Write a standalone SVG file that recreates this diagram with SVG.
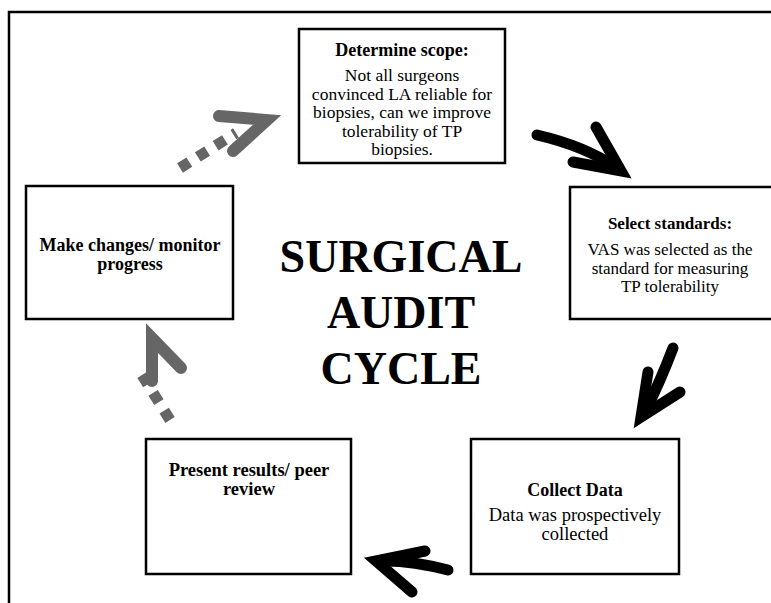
<svg xmlns="http://www.w3.org/2000/svg" width="771" height="603" viewBox="0 0 771 603">
<style>
.box{fill:#fff;stroke:#000;stroke-width:2.5}
.b{font-family:"Liberation Serif","Times New Roman",serif;font-weight:bold;font-size:18px;text-anchor:middle;fill:#000}
.t{font-family:"Liberation Serif","Times New Roman",serif;font-size:17.5px;text-anchor:middle;fill:#000}
.title{font-family:"Liberation Serif","Times New Roman",serif;font-weight:bold;font-size:46px;text-anchor:middle;fill:#000}
.blk{fill:none;stroke:#000;stroke-width:11;stroke-linecap:round;stroke-linejoin:miter}
.gry{fill:none;stroke:#666;stroke-width:12;stroke-linecap:round;stroke-linejoin:miter}
.dots{fill:none;stroke:#666;stroke-width:11;stroke-dasharray:11 10}
</style>
<rect x="9" y="12" width="780" height="620" fill="none" stroke="#000" stroke-width="2.5"/>
<g id="connectors">
<path class="blk" d="M537,135 Q585,146 617,168"/>
<path class="blk" d="M596,127 L621,171 L573,162"/>
<path class="blk" d="M673,348 Q660,382 646,410"/>
<path class="blk" d="M648,372 L641,417 L680,392"/>
<path class="blk" d="M448,570 Q410,560 380,561"/>
<path class="blk" d="M425,551 L376,561 L412,592"/>
<path class="dots" d="M180,168 L236,133"/>
<path class="gry" d="M219,116 L267,120 L233,151"/>
<path class="dots" d="M170,420 L142,375"/>
<path class="gry" d="M152,381 L152,338 L181,368"/>
</g>
<g id="title">
<text class="title" x="401" y="272">SURGICAL</text>
<text class="title" x="401" y="328">AUDIT</text>
<text class="title" x="401" y="384">CYCLE</text>
</g>
<g id="determine-scope">
<rect class="box" x="299" y="29" width="206" height="134"/>
<text class="b" x="402" y="56">Determine scope:</text>
<text class="t" x="402" y="81">Not all surgeons</text>
<text class="t" x="402" y="99.5">convinced LA reliable for</text>
<text class="t" x="402" y="118">biopsies, can we improve</text>
<text class="t" x="402" y="136.5">tolerability of TP</text>
<text class="t" x="402" y="155">biopsies.</text>
</g>
<g id="select-standards">
<rect class="box" x="570" y="187" width="210" height="132"/>
<text class="b" x="670" y="229" style="font-size:17px">Select standards:</text>
<text class="t" x="670" y="255" style="font-size:17px">VAS was selected as the</text>
<text class="t" x="670" y="273.5" style="font-size:17px">standard for measuring</text>
<text class="t" x="670" y="292" style="font-size:17px">TP tolerability</text>
</g>
<g id="collect-data">
<rect class="box" x="471" y="439" width="208" height="135"/>
<text class="b" x="575" y="496">Collect Data</text>
<text class="t" x="575" y="521" style="font-size:18.5px">Data was prospectively</text>
<text class="t" x="575" y="539.5" style="font-size:18.5px">collected</text>
</g>
<g id="present-results">
<rect class="box" x="146" y="439" width="205" height="135"/>
<text class="b" x="249" y="475.5" style="font-size:18.5px">Present results/ peer</text>
<text class="b" x="249" y="495" style="font-size:18.5px">review</text>
</g>
<g id="make-changes">
<rect class="box" x="26" y="186" width="207" height="133"/>
<text class="b" x="130" y="251">Make changes/ monitor</text>
<text class="b" x="130" y="270">progress</text>
</g>
</svg>
